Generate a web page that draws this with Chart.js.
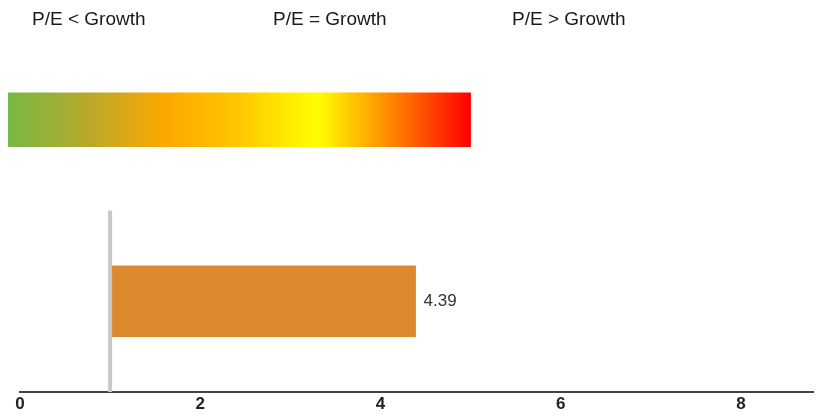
<!DOCTYPE html>
<html>
<head>
<meta charset="utf-8">
<script src="https://cdn.jsdelivr.net/npm/chart.js@4"></script>
<style>
  html, body { margin: 0; padding: 0; background: #fff; }
  #wrap { position: relative; width: 817px; height: 415px; }
  #zones span {
    position: absolute; top: 8px;
    font: 19px "Liberation Sans", Arial, sans-serif; color: #1a1a1a;
  }
</style>
</head>
<body>
<div id="wrap">
  <canvas id="peChart" width="817" height="415"></canvas>
  <div id="zones"></div>
</div>
<script>
// datos
const filas = ['Escala', 'P/E a crecimiento'];
const zonas = ['P/E < Growth', 'P/E = Growth', 'P/E > Growth'];
const rangoEscala = [-0.13, 5];
const lineaCrecimiento = 1;
const peCrecimiento = 4.39;
const valoresTicks = [0, 2, 4, 6, 8];
const rangoEje = [0, 8.8];

// etiquetas de zonas arriba
const zonasLeft = [32, 273, 512];
zonas.forEach((z, i) => {
    const s = document.createElement('span');
    s.textContent = z;
    s.style.left = zonasLeft[i] + 'px';
    document.getElementById('zones').appendChild(s);
});

function gradienteEscala(context) {
    const chart = context.chart;
    if (!chart.chartArea) return '#ffa500';
    const x = chart.scales.x;
    const x0 = x.getPixelForValue(rangoEscala[0]);
    const x1 = x.getPixelForValue(rangoEscala[1]);
    const g = chart.ctx.createLinearGradient(x0, 0, x1, 0);
    g.addColorStop(0, '#76b844');
    g.addColorStop(0.18, '#bca82a');
    g.addColorStop(0.34, '#ffa800');
    g.addColorStop(0.5, '#ffc800');
    g.addColorStop(0.67, '#ffff00');
    g.addColorStop(0.82, '#ff8c00');
    g.addColorStop(1, '#ff0000');
    return g;
}

const lineaPlugin = {
    id: 'lineaCrecimiento',
    afterDatasetsDraw(chart) {
        const { ctx, scales, chartArea } = chart;
        const px = scales.x.getPixelForValue(lineaCrecimiento);
        const top = (scales.y.getPixelForValue(0) + scales.y.getPixelForValue(1)) / 2;
        ctx.save();
        ctx.strokeStyle = '#c8c8c8';
        ctx.lineWidth = 4;
        ctx.beginPath();
        ctx.moveTo(px, top);
        ctx.lineTo(px, chartArea.bottom);
        ctx.stroke();

        // etiqueta del valor
        const el = chart.getDatasetMeta(1).data[1];
        ctx.fillStyle = '#333';
        ctx.font = '17px "Liberation Sans", Arial, sans-serif';
        ctx.textAlign = 'left';
        ctx.textBaseline = 'middle';
        ctx.fillText(peCrecimiento.toFixed(2), el.x + 8, el.y);
        ctx.restore();
    }
};

const cte = document.getElementById('peChart').getContext('2d');
window.myChart = new Chart(cte, {
    type: 'bar',
    data: {
        labels: filas,
        datasets: [{
            data: [rangoEscala, null],
            backgroundColor: gradienteEscala,
            barThickness: 54,
            clip: false,
        }, {
            data: [null, [lineaCrecimiento, peCrecimiento]],
            backgroundColor: '#dd8a2e',
            barThickness: 71,
        }]
    },
    options: {
        indexAxis: 'y',
        responsive: false,
        animation: false,
        grouped: false,
        layout: { padding: { top: 29, left: 20, right: 4, bottom: -2 } },
        plugins: {
            legend: { display: false },
            tooltip: { enabled: false },
        },
        scales: {
            x: {
                min: rangoEje[0],
                max: rangoEje[1],
                afterBuildTicks: (scale) => {
                    scale.ticks = valoresTicks.map(v => ({ value: v }));
                },
                grid: { display: false, drawTicks: false },
                border: { display: true, color: '#444', width: 2 },
                ticks: {
                    padding: 4,
                    color: '#222',
                    font: { family: '"Liberation Sans", Arial, sans-serif', size: 17, weight: 'bold', lineHeight: 1.0 },
                    maxRotation: 0,
                },
            },
            y: {
                display: false,
            }
        }
    },
    plugins: [lineaPlugin]
});
</script>
</body>
</html>
